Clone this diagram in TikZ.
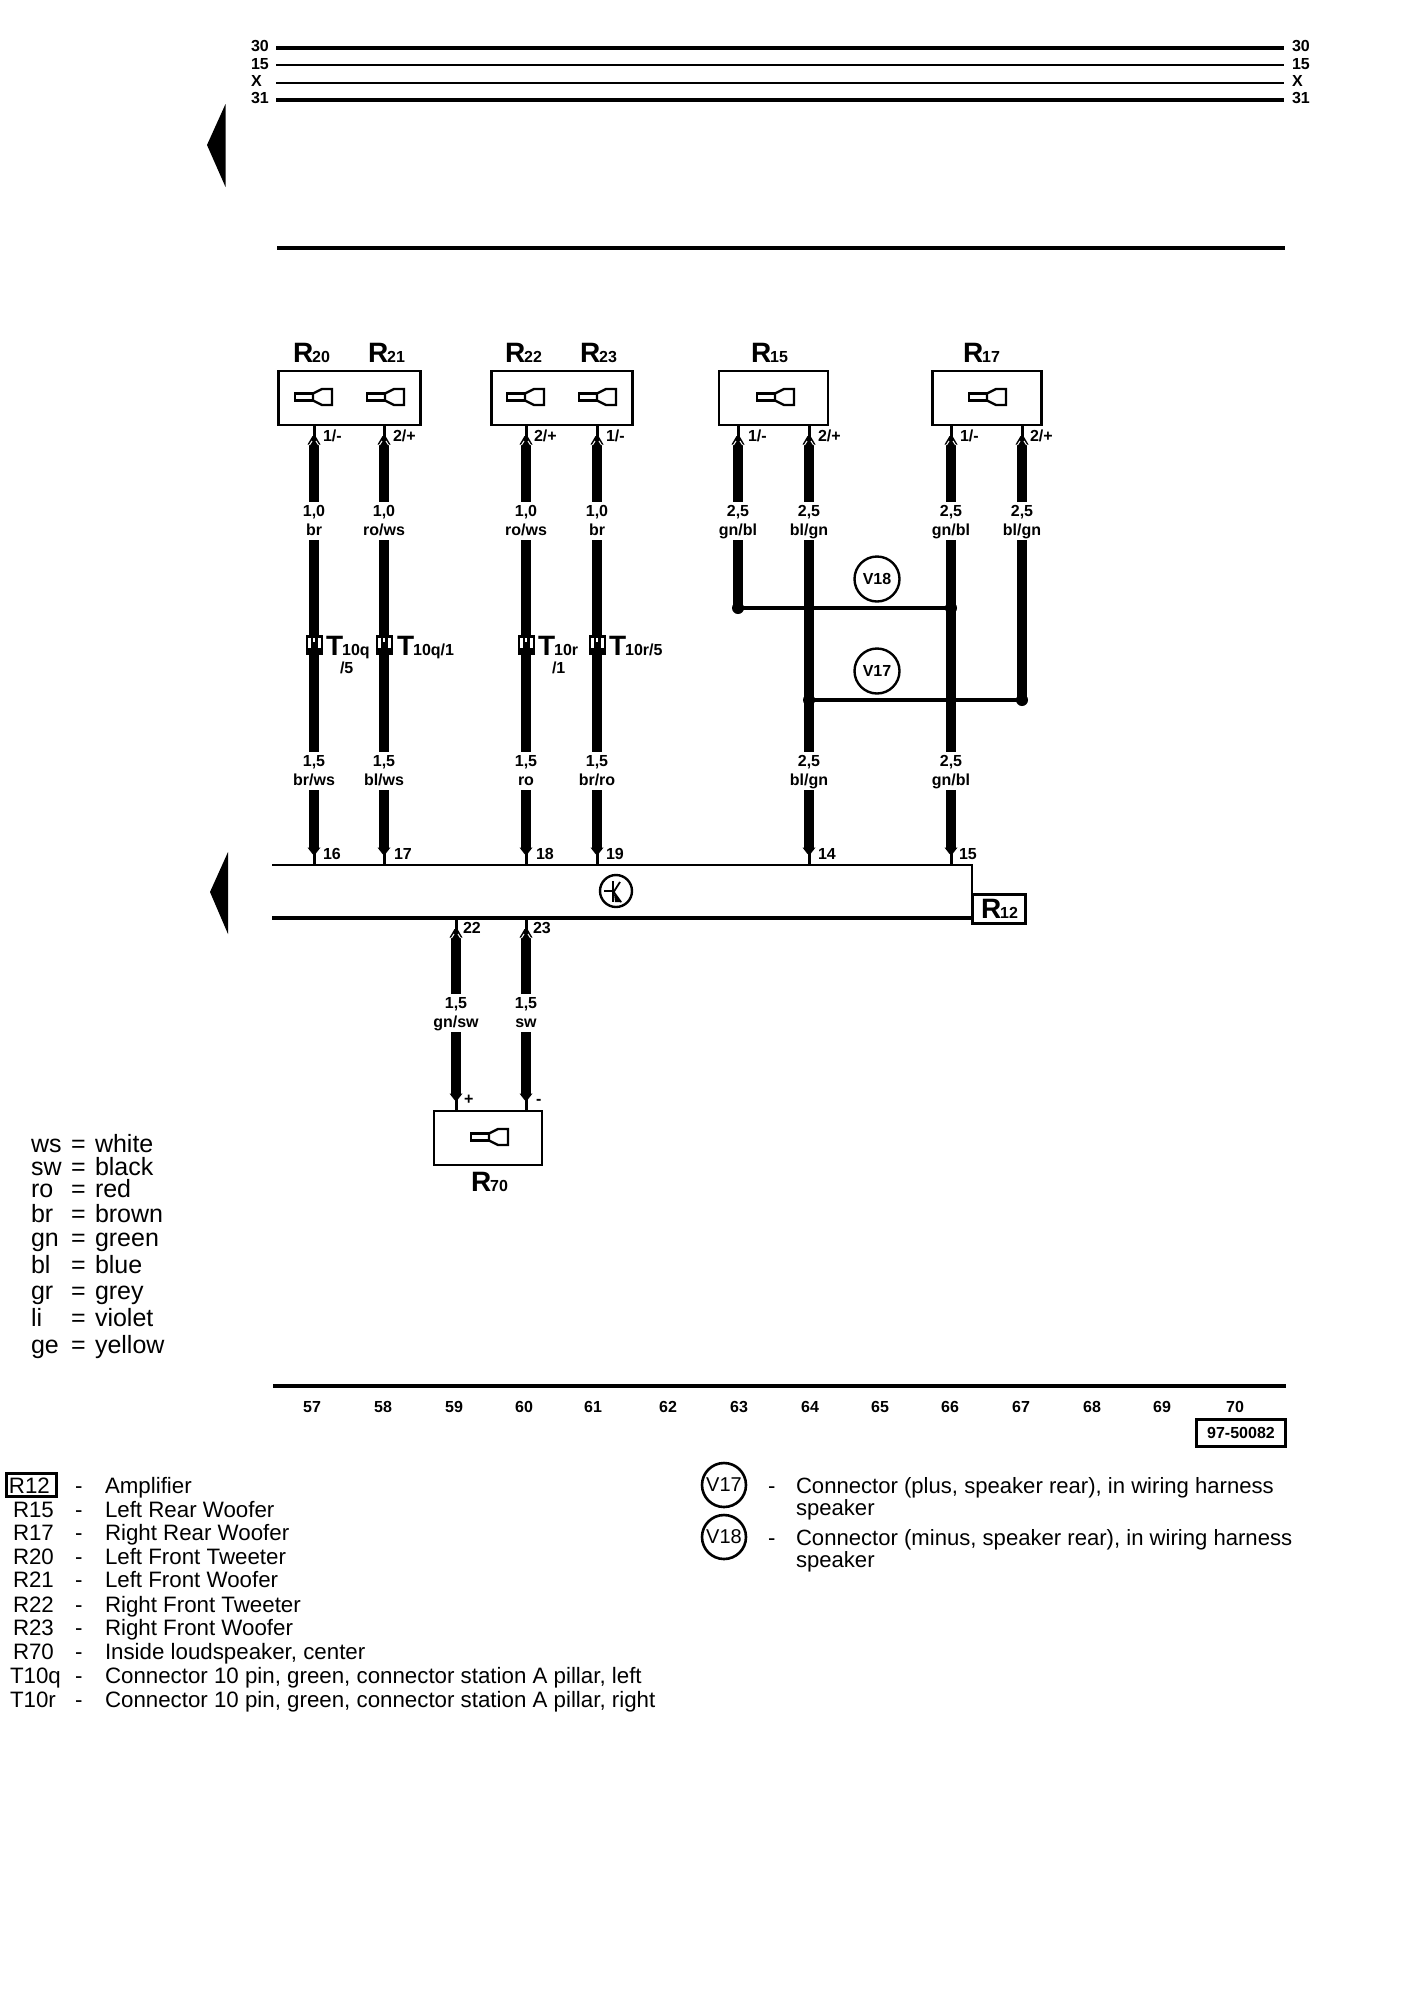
\documentclass[tikz,border=0pt]{standalone}
\usepackage{fontspec}
\setmainfont{Liberation Sans}
\newcommand{\fsz}[1]{\fontsize{#1}{#1}\selectfont}
\newcommand{\partlab}[2]{{\fsz{28}\bfseries #1}\kern-1pt{\fsz{16}\bfseries #2}}
\tikzset{
  smalltxt/.style={font=\fsz{16}\bfseries,inner sep=0pt,outer sep=0pt,text height=11.5pt,text depth=0pt},
  wlabel/.style={font=\fsz{16}\bfseries,inner sep=0pt,outer sep=0pt,fill=white,anchor=north,text height=14.5pt,text depth=4.5pt},
  partname/.style={inner sep=0pt,outer sep=0pt,anchor=base west},
  legend/.style={font=\fsz{22.3},inner sep=0pt,outer sep=0pt,anchor=base west},
  legendr/.style={font=\fsz{22.1},inner sep=0pt,outer sep=0pt,anchor=base west},
  colourkey/.style={font=\fsz{25},inner sep=0pt,outer sep=0pt,anchor=base west},
  busthick/.style={line width=4pt},
  busthin/.style={line width=2pt},
  wireline/.style={line width=10pt},
  stemline/.style={line width=3pt},
  junction/.style={line width=4pt},
  spkbox/.style={draw,line width=2.4pt,inner sep=0pt,minimum height=54pt},
  vcirc/.style={draw,circle,line width=2.4pt,inner sep=0pt,minimum size=45pt,font=\fsz{16}\bfseries},
  lcirc/.style={draw,circle,line width=2.6pt,inner sep=0pt,minimum size=44pt,font=\fsz{20}},
  speaker/.pic={
    \draw[line width=2.4pt,fill=white] (0,-3.5) rectangle (18,3.5);
    \draw[line width=2.4pt,fill=white] (18,-3.5) -- (27,-8) -- (37,-8) -- (37,8) -- (27,8) -- (18,3.5) -- cycle;
  },
  tconn/.pic={
    \fill (-8.5,-10) rectangle (8.5,10);
    \fill[white] (-6.5,-7.5) rectangle (-3.5,3);
    \fill[white] (3.5,-7.5) rectangle (6.5,3);
    \fill[white] (-1,-7.5) rectangle (1,-3);
  },
}
% arrow where a thin stem meets a thick wire: #1 is the free end of the stem
\newcommand{\topflare}[1]{%
  \draw[stemline] (#1) -- ([yshift=-14pt]#1);
  \fill ([xshift=-1.5pt,yshift=-11pt]#1) -- ([xshift=1.5pt,yshift=-11pt]#1) -- ([xshift=6.5pt,yshift=-19.5pt]#1) -- ([xshift=-6.5pt,yshift=-19.5pt]#1) -- cycle;}
\newcommand{\topnotch}[1]{%
  \draw[white,line width=1pt] ([xshift=-4.5pt,yshift=-20pt]#1) -- ([xshift=-2pt,yshift=-16pt]#1);
  \draw[white,line width=1pt] ([xshift=4.5pt,yshift=-20pt]#1) -- ([xshift=2pt,yshift=-16pt]#1);}
\newcommand{\botflare}[1]{%
  \draw[stemline] (#1) -- ([yshift=14pt]#1);
  \fill ([xshift=-1.5pt,yshift=11pt]#1) -- ([xshift=1.5pt,yshift=11pt]#1) -- ([xshift=6.5pt,yshift=17.5pt]#1) -- ([xshift=-6.5pt,yshift=17.5pt]#1) -- cycle;}
% full run between two named ends
\newcommand{\wirerun}[2]{%
  \topflare{#1}\botflare{#2}%
  \draw[wireline] ([yshift=-17pt]#1) -- ([yshift=17pt]#2);
  \topnotch{#1}}
% two-line size/colour label, lying over the wire
\newcommand{\wirelab}[5]{%
  \node[wlabel] (#1a) at (#2,#3) {#4};
  \node[wlabel] (#1b) at (#1a.south) {#5};}
\begin{document}
\begin{tikzpicture}[x=1pt,y=-1pt]
\useasboundingbox (0,0) rectangle (1408,2000);
\fill[white] (0,0) rectangle (1408,2000);

% ---- top buses
\coordinate (b30a) at (276,48);    \coordinate (b30b) at (1284,48);
\coordinate (b15a) at (276,64.7);  \coordinate (b15b) at (1284,64.7);
\coordinate (bXa)  at (276,82.7);  \coordinate (bXb)  at (1284,82.7);
\coordinate (b31a) at (276,100);   \coordinate (b31b) at (1284,100);
\coordinate (b0a)  at (277,248);   \coordinate (b0b)  at (1285,248);
\draw[busthick] (b30a) -- (b30b);
\draw[busthin]  (b15a) -- (b15b);
\draw[busthin]  (bXa)  -- (bXb);
\draw[busthick] (b31a) -- (b31b);
\draw[busthick] (b0a)  -- (b0b);
\node[smalltxt,anchor=west] (l30)  at (251,46) {30};
\node[smalltxt,anchor=west] (l15)  at (251,64) {15};
\node[smalltxt,anchor=west] (lX)   at (251,81) {X};
\node[smalltxt,anchor=west] (l31)  at (251,98) {31};
\node[smalltxt,anchor=west] (r30)  at (1292,46) {30};
\node[smalltxt,anchor=west] (r15)  at (1292,64) {15};
\node[smalltxt,anchor=west] (rX)   at (1292,81) {X};
\node[smalltxt,anchor=west] (r31)  at (1292,98) {31};
\fill (225.5,104) -- (207,145) -- (225.5,187) -- cycle;
\fill (228,852) -- (210,892) -- (228,934) -- cycle;

% ---- speaker boxes
\node[spkbox,minimum width=142pt] (bA) at (349.5,398) {};
\node[spkbox,minimum width=141pt] (bB) at (562,398) {};
\node[spkbox,minimum width=109pt] (bC) at (773.5,398) {};
\node[spkbox,minimum width=109pt] (bD) at (987,398) {};
\node[spkbox,minimum width=108pt] (bE) at (488,1138) {};
\pic at (295,397) {speaker};
\pic at (367,397) {speaker};
\pic at (507,397) {speaker};
\pic at (579,397) {speaker};
\pic at (757,397) {speaker};
\pic at (969,397) {speaker};
\pic at (471,1137) {speaker};
\node[partname] (nR20) at (293,362.5) {\partlab{R}{20}};
\node[partname] (nR21) at (368,362.5) {\partlab{R}{21}};
\node[partname] (nR22) at (505,362.5) {\partlab{R}{22}};
\node[partname] (nR23) at (580,362.5) {\partlab{R}{23}};
\node[partname] (nR15) at (751,362.5) {\partlab{R}{15}};
\node[partname] (nR17) at (963,362.5) {\partlab{R}{17}};
\node[partname] (nR70) at (471,1191) {\partlab{R}{70}};

% ---- amplifier bar
\coordinate (barTL) at (272,865);  \coordinate (barTR) at (972,865);
\coordinate (barBL) at (272,918);  \coordinate (barBR) at (972,918);
\draw[busthin] (barTL) -- (barTR) -- (barBR);
\draw[busthick] (barBL) -- (barBR);
\node[draw,line width=3.4pt,inner sep=0pt,minimum width=53pt,minimum height=29pt] (boxR12) at (999,909) {};
\node[partname] (nR12) at (981,918) {\partlab{R}{12}};
\begin{scope}[shift={(616,891)}]
  \draw[line width=2.4pt] (0,0) circle (16);
  \draw[line width=1.8pt] (-12,0) -- (-3,0);
  \draw[line width=2.4pt] (-3,-10) -- (-3,11);
  \draw[line width=1.8pt] (-3,2) -- (4,-9);
  \draw[line width=1.8pt] (-3,0) -- (5,11);
  \fill (-2,3) -- (6,11) -- (-1,11) -- cycle;
\end{scope}

% ---- wire ends
\foreach \nm/\x in {a/314,b/384,c/526,d/597,e/809,f/951}{
  \coordinate (\nm T) at (\x,425);
  \coordinate (\nm B) at (\x,865);
}
\coordinate (gT) at (738,425);  \coordinate (gJ) at (738,608);
\coordinate (hT) at (1022,425); \coordinate (hJ) at (1022,700);
\coordinate (jL) at (951,608);  \coordinate (jR) at (809,700);
\coordinate (iT) at (456,918);  \coordinate (iB) at (456,1111);
\coordinate (kT) at (526,918);  \coordinate (kB) at (526,1111);

\wirerun{aT}{aB}
\wirerun{bT}{bB}
\wirerun{cT}{cB}
\wirerun{dT}{dB}
\wirerun{eT}{eB}
\wirerun{fT}{fB}
\wirerun{iT}{iB}
\wirerun{kT}{kB}
\topflare{gT}
\draw[wireline] ([yshift=-17pt]gT) -- (gJ);
\topnotch{gT}
\topflare{hT}
\draw[wireline] ([yshift=-17pt]hT) -- (hJ);
\topnotch{hT}
\draw[junction] (gJ) -- (jL);
\draw[junction] (jR) -- (hJ);
\fill (gJ) circle (6);
\fill (jL) circle (6);
\fill (jR) circle (6);
\fill (hJ) circle (6);
\node[vcirc] (v18) at (877,579) {V18};
\node[vcirc] (v17) at (877,671) {V17};

% ---- size / colour labels
\wirelab{ta}{314}{502}{1,0}{br}
\wirelab{tb}{384}{502}{1,0}{ro/ws}
\wirelab{tc}{526}{502}{1,0}{ro/ws}
\wirelab{td}{597}{502}{1,0}{br}
\wirelab{tg}{738}{502}{2,5}{gn/bl}
\wirelab{te}{809}{502}{2,5}{bl/gn}
\wirelab{tf}{951}{502}{2,5}{gn/bl}
\wirelab{th}{1022}{502}{2,5}{bl/gn}
\wirelab{ua}{314}{752}{1,5}{br/ws}
\wirelab{ub}{384}{752}{1,5}{bl/ws}
\wirelab{uc}{526}{752}{1,5}{ro}
\wirelab{ud}{597}{752}{1,5}{br/ro}
\wirelab{ue}{809}{752}{2,5}{bl/gn}
\wirelab{uf}{951}{752}{2,5}{gn/bl}
\wirelab{vi}{456}{994}{1,5}{gn/sw}
\wirelab{vk}{526}{994}{1,5}{sw}

% ---- pin labels
\node[smalltxt,anchor=west] (pa) at (323,436) {1/-};
\node[smalltxt,anchor=west] (pb) at (393,436) {2/+};
\node[smalltxt,anchor=west] (pc) at (534,436) {2/+};
\node[smalltxt,anchor=west] (pd) at (606,436) {1/-};
\node[smalltxt,anchor=west] (pg) at (748,436) {1/-};
\node[smalltxt,anchor=west] (pe) at (818,436) {2/+};
\node[smalltxt,anchor=west] (pf) at (960,436) {1/-};
\node[smalltxt,anchor=west] (ph) at (1030,436) {2/+};
\node[smalltxt,anchor=west] (p16) at (323,854) {16};
\node[smalltxt,anchor=west] (p17) at (394,854) {17};
\node[smalltxt,anchor=west] (p18) at (536,854) {18};
\node[smalltxt,anchor=west] (p19) at (606,854) {19};
\node[smalltxt,anchor=west] (p14) at (818,854) {14};
\node[smalltxt,anchor=west] (p15) at (959,854) {15};
\node[smalltxt,anchor=west] (p22) at (463,928) {22};
\node[smalltxt,anchor=west] (p23) at (533,928) {23};
\node[smalltxt,anchor=west] (pplus) at (464,1099) {+};
\node[smalltxt,anchor=west] (pminus) at (536,1099) {-};

% ---- T connectors
\pic at (314,645) {tconn};
\pic at (384,645) {tconn};
\pic at (526,645) {tconn};
\pic at (597,645) {tconn};
\node[partname] (nT1) at (326,655) {\partlab{T}{10q}};
\node[partname] (nT2) at (397,655) {\partlab{T}{10q/1}};
\node[partname] (nT3) at (538,655) {\partlab{T}{10r}};
\node[partname] (nT4) at (609,655) {\partlab{T}{10r/5}};
\node[smalltxt,anchor=west] (nT1b) at (340,668) {/5};
\node[smalltxt,anchor=west] (nT3b) at (552,668) {/1};

% ---- bottom scale
\coordinate (bsa) at (273,1386); \coordinate (bsb) at (1286,1386);
\draw[busthick] (bsa) -- (bsb);
\foreach \t/\x in {57/312,58/383,59/454,60/524,61/593,62/668,63/739,64/810,65/880,66/950,67/1021,68/1092,69/1162,70/1235}{
  \node[smalltxt] (col\t) at (\x,1407) {\t};
}
\node[draw,line width=2.6pt,inner sep=0pt,minimum width=89pt,minimum height=27pt,font=\fsz{16}\bfseries] (docno) at (1241,1433) {97-50082};

% ---- colour key
\foreach \a/\b/\yy/\i in {ws/white/1152/1,sw/black/1175/2,ro/red/1197/3,br/brown/1222/4,gn/green/1246/5,bl/blue/1273/6,gr/grey/1299/7,li/violet/1326/8,ge/yellow/1353/9}{
  \node[colourkey] (ka\i) at (31,\yy) {\a};
  \node[colourkey] (kb\i) at (71,\yy) {=};
  \node[colourkey] (kc\i) at (95,\yy) {\b};
}

% ---- legend left
\node[draw,line width=3pt,inner sep=0pt,minimum width=50pt,minimum height=23pt] (lbox) at (31,1485) {};
\foreach \c/\d/\yy/\xc/\i in {
  R12/Amplifier/1493/9/1,
  R15/Left Rear Woofer/1517/13/2,
  R17/Right Rear Woofer/1540/13/3,
  R20/Left Front Tweeter/1564/13/4,
  R21/Left Front Woofer/1587/13/5,
  R22/Right Front Tweeter/1612/13/6,
  R23/Right Front Woofer/1635/13/7,
  R70/{Inside loudspeaker, center}/1659/13/8,
  T10q/{Connector 10 pin, green, connector station A pillar, left}/1683/10/9,
  T10r/{Connector 10 pin, green, connector station A pillar, right}/1707/10/10}{
  \node[legend] (lc\i) at (\xc,\yy) {\c};
  \node[legend] (ld\i) at (75,\yy) {-};
  \node[legend] (le\i) at (105,\yy) {\d};
}

% ---- legend right
\node[lcirc] (lv17) at (724,1485) {V17};
\node[lcirc] (lv18) at (724,1537) {V18};
\node[legendr] (rd1) at (768,1493) {-};
\node[legendr] (rd2) at (768,1545) {-};
\node[legendr] (rt1) at (796,1493) {Connector (plus, speaker rear), in wiring harness};
\node[legendr] (rt1b) at (796,1515) {speaker};
\node[legendr] (rt2) at (796,1545) {Connector (minus, speaker rear), in wiring harness};
\node[legendr] (rt2b) at (796,1567) {speaker};
\end{tikzpicture}
\end{document}
